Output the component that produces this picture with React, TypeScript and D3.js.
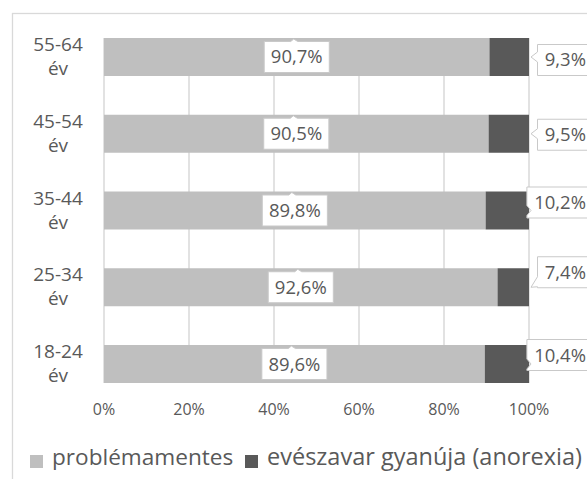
import React from "react";
import * as d3 from "d3";

// Age groups, top to bottom
const categories = ["55-64 év", "45-54 év", "35-44 év", "25-34 év", "18-24 év"];
// Share of respondents (%)
const problemFree = [90.7, 90.5, 89.8, 92.6, 89.6];
const anorexiaSuspected = [9.3, 9.5, 10.2, 7.4, 10.4];
const seriesNames = ["problémamentes", "evészavar gyanúja (anorexia)"];
const xTicks = [0, 20, 40, 60, 80, 100];

// Vertical nudges of the outside callouts so they do not crowd each other
const calloutNudge = [3, 1, -8, -15, -9];

const W = 587;
const H = 479;
const FONT = "'Open Sans', sans-serif";
const TEXT = "#595959";
const LIGHT = "#bfbfbf";
const DARK = "#595959";
const GRID = "#d9d9d9";

const fmt = (v: number) => d3.format(".1f")(v).replace(".", ",") + "%";

// Approximate Open Sans advance widths (em) for label boxes
const glyphEm: Record<string, number> = { ",": 0.266, "%": 0.834 };
const textWidth = (s: string, size: number) =>
  s.split("").reduce((a, c) => a + (glyphEm[c] ?? 0.572), 0) * size;

export default function App() {
  const x = d3.scaleLinear().domain([0, 100]).range([104, 529]);
  const y = d3
    .scaleBand<string>()
    .domain(categories)
    .range([38, 383])
    .paddingInner(0.505)
    .paddingOuter(0);
  const bw = y.bandwidth();
  const [yTop, yBottom] = y.range();

  const labelSize = 18.5;
  const boxH = 31;

  return (
    <svg
      width={W}
      height={H}
      style={{ position: "absolute", left: 0, top: 0, display: "block" }}
      fontFamily={FONT}
    >
      <rect x={0} y={0} width={W} height={H} fill="#fff" />
      {/* chart frame */}
      <rect x={12.5} y={13.5} width={W + 20} height={H + 20} fill="none" stroke={GRID} strokeWidth={1.3} />

      {/* vertical gridlines */}
      {xTicks.map((t) => (
        <line key={t} x1={x(t)} x2={x(t)} y1={yTop} y2={yBottom} stroke={GRID} strokeWidth={1.5} />
      ))}

      {/* stacked bars */}
      {categories.map((c, i) => {
        const y0 = y(c)!;
        return (
          <g key={c}>
            <rect x={x(0)} y={y0} width={x(problemFree[i]) - x(0)} height={bw} fill={LIGHT} />
            <rect
              x={x(problemFree[i])}
              y={y0}
              width={x(problemFree[i] + anorexiaSuspected[i]) - x(problemFree[i])}
              height={bw}
              fill={DARK}
            />
          </g>
        );
      })}

      {/* category labels */}
      {categories.map((c) => {
        const [range, unit] = c.split(" ");
        const cy = y(c)! + bw / 2;
        return (
          <text key={c} textAnchor="middle" fill={TEXT} fontSize={19}>
            <tspan x={58} y={cy - 6}>{range}</tspan>
            <tspan x={58} y={cy + 18}>{unit}</tspan>
          </text>
        );
      })}

      {/* inside callouts */}
      {categories.map((c, i) => {
        const s = fmt(problemFree[i]);
        const cx = x(problemFree[i] / 2);
        const cy = y(c)! + bw / 2;
        const w = textWidth(s, labelSize) + 13;
        const top = cy - boxH / 2;
        const left = cx - w / 2;
        const path = `M${left},${top} L${cx - 6},${top} L${cx - 3},${top - 2.5} L${cx + 1},${top} L${left + w},${top} L${left + w},${top + boxH} L${left},${top + boxH} Z`;
        return (
          <g key={c}>
            <path d={path} fill="#fff" stroke="#c9c9c9" strokeWidth={1} />
            <text x={cx} y={cy + 6.5} textAnchor="middle" fill={TEXT} fontSize={labelSize}>
              {s}
            </text>
          </g>
        );
      })}

      {/* outside callouts */}
      {categories.map((c, i) => {
        const s = fmt(anorexiaSuspected[i]);
        const barCy = y(c)! + bw / 2;
        const cy = barCy + calloutNudge[i];
        const textEnd = 586;
        const w = textWidth(s, labelSize) + 14;
        const left = textEnd + 7 - w;
        const right = left + w;
        const top = cy - boxH / 2;
        const bottom = cy + boxH / 2;
        const tipX = x(anorexiaSuspected[i] + problemFree[i]) + 2;
        const py = Math.max(top + 6, Math.min(bottom - 6, barCy));
        const path = `M${left},${top} L${right},${top} L${right},${bottom} L${left},${bottom} L${left},${py + 5} L${tipX},${barCy} L${left},${py - 5} Z`;
        return (
          <g key={c}>
            <path d={path} fill="#fff" stroke="#c9c9c9" strokeWidth={1} />
            <text x={textEnd} y={cy + 6.5} textAnchor="end" fill={TEXT} fontSize={labelSize}>
              {s}
            </text>
          </g>
        );
      })}

      {/* x axis tick labels */}
      {xTicks.map((t) => (
        <text key={t} x={x(t)} y={415} textAnchor="middle" fill={TEXT} fontSize={16}>
          {t}%
        </text>
      ))}

      {/* legend */}
      <rect x={30} y={455} width={13} height={13} fill={LIGHT} />
      <text x={52} y={465} fill={TEXT} fontSize={22.6}>
        {seriesNames[0]}
      </text>
      <rect x={245} y={455} width={13} height={13} fill={DARK} />
      <text x={267} y={465} fill={TEXT} fontSize={23.5}>
        {seriesNames[1]}
      </text>
    </svg>
  );
}
